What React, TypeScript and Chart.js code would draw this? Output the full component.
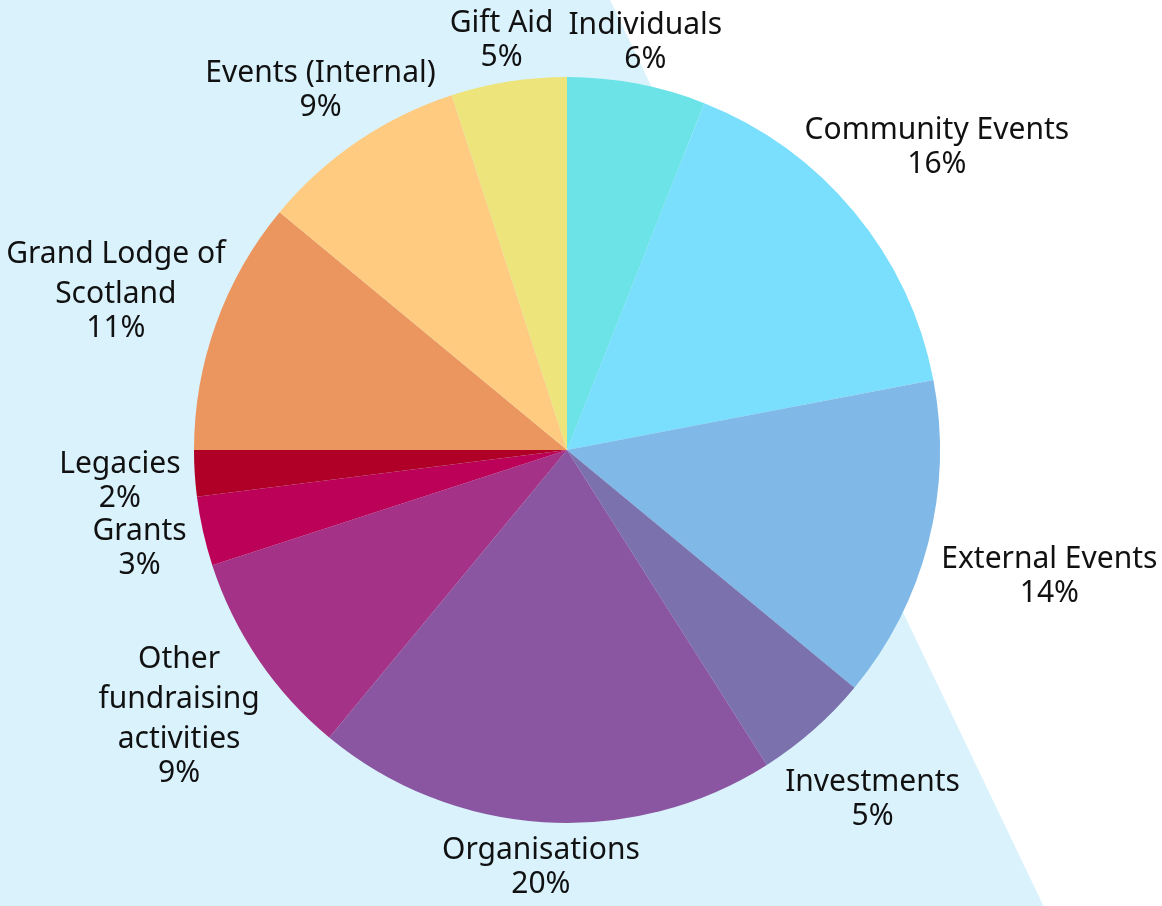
import React, { useEffect, useRef } from "react";
import { Chart, registerables } from "chart.js";

Chart.register(...registerables);

const categories: string[][] = [
  ["Individuals"],
  ["Community Events"],
  ["External Events"],
  ["Investments"],
  ["Organisations"],
  ["Other", "fundraising", "activities"],
  ["Grants"],
  ["Legacies"],
  ["Grand Lodge of", "Scotland"],
  ["Events (Internal)"],
  ["Gift Aid"],
];

const shares = [6, 16, 14, 5, 20, 9, 3, 2, 11, 9, 5];

const sliceColors = [
  "#6BE3E7",
  "#79DFFD",
  "#80B9E7",
  "#7A71AD",
  "#8B56A1",
  "#A43388",
  "#BC0158",
  "#B00027",
  "#EC965F",
  "#FFCB80",
  "#EEE47C",
];

const W = 1162;
const H = 906;
const FONT = '30px "Noto Sans"';

const backgroundPlugin = {
  id: "bgShape",
  beforeDraw(chart: any) {
    const ctx = chart.ctx;
    const w = chart.width;
    const h = chart.height;
    ctx.save();
    ctx.fillStyle = "#FFFFFF";
    ctx.fillRect(0, 0, w, h);
    ctx.fillStyle = "#D9F2FC";
    ctx.beginPath();
    ctx.moveTo(0, 0);
    ctx.lineTo(w * 0.525, 0);
    ctx.lineTo(w * 0.898, h);
    ctx.lineTo(0, h);
    ctx.closePath();
    ctx.fill();
    ctx.restore();
  },
};

const labelPlugin = {
  id: "outerLabels",
  afterDatasetsDraw(chart: any) {
    const ctx = chart.ctx;
    const meta = chart.getDatasetMeta(0);
    const values = chart.data.datasets[0].data as number[];
    const total = values.reduce((s, v) => s + v, 0);
    ctx.save();
    ctx.font = FONT;
    ctx.fillStyle = "#111111";
    ctx.textAlign = "center";
    ctx.textBaseline = "alphabetic";
    const gap = 13;
    meta.data.forEach((arc: any, i: number) => {
      const p = arc.getProps(["x", "y", "startAngle", "endAngle", "outerRadius"], true);
      const a = (p.startAngle + p.endAngle) / 2;
      const dx = Math.cos(a);
      const dy = Math.sin(a);
      const names = chart.data.labels[i] as string[];
      const pct = Math.round((values[i] / total) * 100) + "%";
      const lines: { text: string; base: number; w: number; asc: number; desc: number }[] = [];
      let base = 0;
      names.forEach((t, j) => {
        if (j > 0) base += 40;
        const m = ctx.measureText(t);
        lines.push({ text: t, base, w: m.width, asc: m.actualBoundingBoxAscent, desc: m.actualBoundingBoxDescent });
      });
      base += 34;
      const mp = ctx.measureText(pct);
      lines.push({ text: pct, base, w: mp.width, asc: mp.actualBoundingBoxAscent, desc: mp.actualBoundingBoxDescent });
      const top = lines[0].base - lines[0].asc;
      const last = lines[lines.length - 1];
      const bottom = last.base + last.desc;
      const mid = (top + bottom) / 2;
      const limit = p.outerRadius + gap;
      let t = p.outerRadius;
      for (; t < p.outerRadius + 400; t += 0.5) {
        const cx = dx * t;
        const cy = dy * t;
        let ok = true;
        for (const ln of lines) {
          const x0 = cx - ln.w / 2;
          const x1 = cx + ln.w / 2;
          const y0 = cy + ln.base - mid - ln.asc;
          const y1 = cy + ln.base - mid + ln.desc;
          const nx = Math.max(x0, Math.min(0, x1));
          const ny = Math.max(y0, Math.min(0, y1));
          if (Math.hypot(nx, ny) < limit) {
            ok = false;
            break;
          }
        }
        if (ok) break;
      }
      const cx = p.x + dx * t;
      const cy = p.y + dy * t;
      for (const ln of lines) {
        ctx.fillText(ln.text, cx, cy + ln.base - mid);
      }
    });
    ctx.restore();
  },
};

export default function App() {
  const ref = useRef<HTMLCanvasElement | null>(null);
  useEffect(() => {
    if (!ref.current) return;
    const chart = new Chart(ref.current, {
      type: "pie",
      data: {
        labels: categories as any,
        datasets: [
          {
            data: shares,
            backgroundColor: sliceColors,
            borderWidth: 0,
          },
        ],
      },
      options: {
        animation: false,
        responsive: false,
        maintainAspectRatio: false,
        layout: { padding: { left: 194, right: 222, top: 77, bottom: 83 } },
        plugins: {
          legend: { display: false },
          tooltip: { enabled: false },
        },
      },
      plugins: [backgroundPlugin, labelPlugin],
    });
    return () => chart.destroy();
  }, []);
  return (
    <div style={{ position: "fixed", left: 0, top: 0, width: W, height: H }}>
      <canvas ref={ref} width={W} height={H} style={{ width: W, height: H, display: "block" }} />
    </div>
  );
}
